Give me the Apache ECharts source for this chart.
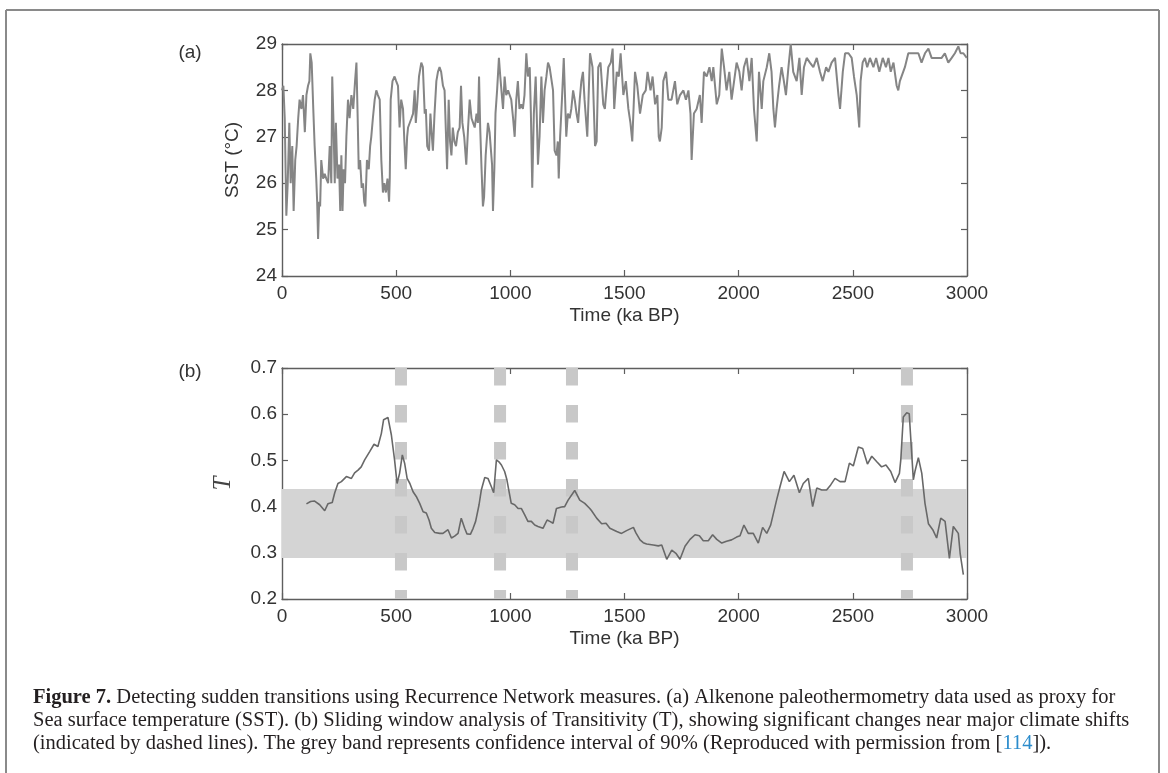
<!DOCTYPE html>
<html>
<head>
<meta charset="utf-8">
<script src="https://cdn.jsdelivr.net/npm/echarts@6.0.0/dist/echarts.min.js"></script>
<style>
  html, body { margin: 0; padding: 0; background: #fff; }
  #fig { width: 1168px; height: 773px; }
</style>
</head>
<body>
<div id="fig"></div>
<script>
// ---- data ----
var timeTicks = [0, 500, 1000, 1500, 2000, 2500, 3000];
var sstTicks = [24, 25, 26, 27, 28, 29];
var transTicks = [0.2, 0.3, 0.4, 0.5, 0.6, 0.7];

// (a) SST record, ka BP / degC
var sstTime = [0, 6, 12, 19, 25, 32, 38, 45, 51, 58, 64, 71, 77, 85, 92, 100, 107, 114, 120, 124,
  130, 137, 143, 150, 154, 158, 163, 167, 172, 180, 187, 194, 202, 209, 216, 220, 225, 231, 236, 243,
  250, 255, 260, 265, 270, 276, 282, 289, 296, 304, 312, 320, 326, 331, 336, 342, 349, 355, 360, 365,
  372, 380, 386, 391, 398, 406, 413, 420, 428, 435, 442, 448, 455, 462, 469, 472, 476, 484, 493, 500,
  508, 515, 522, 530, 536, 542, 548, 552, 560, 567, 574, 581, 586, 592, 600, 610, 617, 625, 630, 636,
  644, 650, 655, 661, 668, 676, 683, 690, 697, 705, 712, 720, 723, 730, 736, 742, 748, 755, 762, 770,
  778, 784, 790, 798, 807, 815, 822, 830, 837, 844, 852, 858, 863, 868, 874, 880, 885, 892, 902, 909,
  916, 920, 924, 930, 935, 942, 950, 956, 961, 968, 975, 982, 990, 997, 1004, 1012, 1019, 1026, 1033, 1040,
  1048, 1055, 1062, 1070, 1077, 1085, 1090, 1096, 1103, 1111, 1116, 1121, 1128, 1136, 1143, 1150, 1158, 1165, 1172, 1180,
  1187, 1194, 1202, 1208, 1212, 1218, 1226, 1234, 1240, 1245, 1252, 1260, 1267, 1275, 1282, 1290, 1297, 1304, 1311, 1318,
  1325, 1337, 1349, 1360, 1371, 1378, 1385, 1395, 1407, 1414, 1429, 1440, 1448, 1455, 1466, 1475, 1483, 1495, 1506, 1517,
  1526, 1534, 1546, 1556, 1568, 1580, 1593, 1601, 1614, 1623, 1634, 1644, 1650, 1655, 1663, 1670, 1682, 1692, 1706, 1721,
  1731, 1743, 1758, 1769, 1780, 1789, 1794, 1804, 1816, 1830, 1838, 1848, 1860, 1872, 1882, 1889, 1904, 1915, 1926, 1936,
  1947, 1959, 1969, 1980, 1991, 2003, 2013, 2023, 2035, 2047, 2057, 2067, 2079, 2089, 2101, 2108, 2123, 2134, 2144, 2152,
  2159, 2166, 2177, 2188, 2198, 2207, 2218, 2228, 2239, 2254, 2266, 2276, 2286, 2298, 2312, 2327, 2342, 2356, 2368, 2383,
  2393, 2407, 2422, 2437, 2444, 2456, 2466, 2481, 2495, 2505, 2517, 2528, 2534, 2543, 2553, 2563, 2575, 2590, 2602, 2616,
  2631, 2645, 2656, 2666, 2678, 2692, 2699, 2706, 2714, 2728, 2743, 2758, 2772, 2787, 2801, 2816, 2831, 2845, 2860, 2874,
  2889, 2903, 2918, 2933, 2947, 2962, 2972, 2984, 2999];
var sstValue = [28.0, 28.1, 27.4, 25.3, 26.0, 27.3, 26.0, 26.8, 25.4, 26.5, 26.8, 27.4, 27.8, 27.6, 27.9, 27.1, 27.9, 28.1, 28.2, 28.8,
  28.6, 27.6, 26.8, 26.1, 25.6, 24.8, 25.6, 25.5, 26.5, 26.1, 26.2, 26.1, 26.0, 26.8, 26.0, 28.3, 27.4, 26.0, 27.3, 26.1,
  26.4, 25.4, 26.6, 25.4, 26.3, 26.0, 27.0, 27.8, 27.4, 27.9, 27.6, 28.2, 28.6, 27.5, 26.3, 26.5, 25.9, 26.0, 25.6, 25.5,
  26.5, 26.3, 26.8, 27.0, 27.4, 27.8, 28.0, 27.9, 27.8, 26.5, 25.8, 26.0, 25.8, 26.1, 25.6, 26.1, 27.8, 28.2, 28.3, 28.2,
  28.1, 27.2, 27.8, 27.6, 26.9, 26.3, 27.0, 27.2, 27.2, 27.4, 27.5, 28.0, 27.3, 27.7, 28.3, 28.6, 28.5, 27.5, 27.6, 26.8,
  26.7, 27.5, 27.1, 26.7, 27.5, 28.2, 28.4, 28.5, 28.4, 28.1, 28.0, 28.0, 26.3, 27.8, 26.9, 26.6, 27.2, 26.9, 26.8, 27.1,
  27.2, 28.1, 27.3, 27.0, 26.4, 27.2, 27.8, 27.4, 27.3, 27.2, 27.5, 27.3, 28.3, 27.2, 26.3, 25.5, 25.7, 26.6, 27.3, 27.1,
  27.1, 26.4, 25.4, 26.3, 27.5, 28.0, 28.7, 28.3, 28.0, 27.6, 28.3, 27.9, 28.0, 27.9, 27.8, 27.4, 27.0, 27.8, 28.2, 27.6,
  27.7, 27.6, 27.9, 28.8, 28.3, 28.5, 27.5, 25.9, 27.5, 28.3, 27.4, 26.4, 27.0, 28.3, 27.3, 28.0, 28.3, 28.6, 28.5, 28.5,
  28.0, 26.7, 26.6, 26.9, 26.1, 27.0, 27.8, 28.7, 27.8, 27.0, 27.5, 27.4, 27.6, 28.0, 27.8, 27.5, 27.3, 27.8, 28.2, 28.4,
  27.8, 27.0, 28.8, 28.5, 26.8, 26.9, 28.5, 28.6, 27.7, 27.6, 28.5, 28.6, 28.9, 27.6, 28.4, 28.3, 28.8, 27.9, 28.2, 27.6,
  27.3, 26.9, 28.4, 28.1, 27.5, 27.9, 28.0, 28.4, 28.0, 28.3, 27.7, 27.9, 27.0, 26.9, 27.2, 28.2, 28.4, 27.8, 27.8, 28.2,
  27.7, 27.9, 28.0, 27.8, 28.0, 27.5, 26.5, 27.5, 27.6, 27.9, 27.3, 28.4, 28.3, 28.5, 28.2, 28.5, 27.7, 27.9, 28.9, 28.5,
  28.0, 28.4, 27.8, 28.2, 28.6, 28.4, 28.0, 28.5, 28.7, 28.2, 28.7, 27.6, 26.9, 28.4, 27.6, 28.2, 28.5, 28.8, 28.4, 27.6,
  27.2, 27.6, 28.1, 28.5, 28.2, 27.9, 28.5, 29.0, 28.4, 28.2, 28.7, 27.9, 28.5, 28.7, 28.6, 28.5, 28.7, 28.4, 28.2, 28.5,
  28.4, 28.6, 28.7, 27.9, 27.6, 28.4, 28.8, 28.8, 28.7, 28.3, 27.9, 27.2, 28.2, 28.6, 28.7, 28.5, 28.7, 28.5, 28.7, 28.4,
  28.7, 28.5, 28.7, 28.4, 28.6, 28.1, 28.0, 28.2, 28.2, 28.5, 28.8, 28.8, 28.8, 28.8, 28.6, 28.8, 28.9, 28.7, 28.7, 28.7,
  28.7, 28.8, 28.6, 28.7, 28.8, 28.95, 28.8, 28.8, 28.7];

// (b) sliding-window transitivity
var transTime = [107, 125, 143, 165, 187, 201, 220, 231, 245, 260, 282, 304, 318, 333, 347, 362, 384, 403, 420, 435,
  445, 464, 479, 493, 504, 515, 527, 537, 548, 560, 574, 588, 603, 618, 632, 644, 654, 669, 691, 705,
  727, 742, 756, 771, 785, 800, 810, 825, 837, 848, 863, 873, 888, 902, 917, 927, 939, 950, 961, 975,
  985, 993, 1004, 1019, 1034, 1048, 1063, 1077, 1092, 1107, 1121, 1143, 1161, 1173, 1187, 1202, 1224, 1238, 1253, 1282,
  1304, 1326, 1348, 1356, 1378, 1400, 1419, 1436, 1466, 1487, 1509, 1539, 1550, 1568, 1582, 1597, 1626, 1648, 1663, 1685,
  1707, 1725, 1743, 1765, 1787, 1809, 1828, 1845, 1867, 1886, 1904, 1926, 1947, 1969, 1991, 2006, 2023, 2042, 2064, 2086,
  2105, 2123, 2140, 2166, 2181, 2199, 2222, 2242, 2266, 2283, 2305, 2324, 2342, 2364, 2385, 2403, 2422, 2444, 2466, 2485,
  2502, 2524, 2543, 2564, 2583, 2605, 2626, 2645, 2666, 2685, 2704, 2710, 2721, 2736, 2747, 2755, 2765, 2772, 2787, 2802,
  2816, 2831, 2850, 2867, 2885, 2904, 2923, 2940, 2962, 2970, 2984];
var transValue = [0.406, 0.411, 0.412, 0.404, 0.391, 0.406, 0.409, 0.430, 0.450, 0.454, 0.465, 0.461, 0.473, 0.479, 0.486, 0.501, 0.519, 0.535, 0.530, 0.558,
  0.588, 0.593, 0.555, 0.501, 0.450, 0.472, 0.512, 0.494, 0.461, 0.450, 0.432, 0.422, 0.407, 0.389, 0.386, 0.371, 0.353, 0.344, 0.342, 0.342,
  0.350, 0.332, 0.336, 0.342, 0.375, 0.353, 0.341, 0.340, 0.353, 0.368, 0.404, 0.436, 0.463, 0.461, 0.443, 0.430, 0.501, 0.497, 0.490, 0.476,
  0.458, 0.436, 0.407, 0.404, 0.396, 0.396, 0.382, 0.368, 0.368, 0.360, 0.357, 0.353, 0.371, 0.368, 0.364, 0.396, 0.399, 0.400, 0.414, 0.435,
  0.414, 0.407, 0.396, 0.391, 0.375, 0.363, 0.364, 0.353, 0.346, 0.342, 0.348, 0.355, 0.343, 0.328, 0.322, 0.319, 0.317, 0.315, 0.317, 0.286,
  0.306, 0.299, 0.286, 0.314, 0.329, 0.339, 0.337, 0.326, 0.326, 0.339, 0.329, 0.321, 0.325, 0.328, 0.334, 0.337, 0.360, 0.342, 0.342, 0.321,
  0.355, 0.342, 0.360, 0.414, 0.443, 0.476, 0.454, 0.468, 0.430, 0.450, 0.461, 0.400, 0.440, 0.436, 0.436, 0.447, 0.461, 0.454, 0.454, 0.494,
  0.488, 0.529, 0.526, 0.492, 0.509, 0.497, 0.486, 0.490, 0.476, 0.452, 0.472, 0.501, 0.594, 0.603, 0.601, 0.537, 0.458, 0.476, 0.506, 0.472,
  0.407, 0.363, 0.350, 0.332, 0.375, 0.368, 0.288, 0.357, 0.342, 0.299, 0.253];

// major climate shifts (dashed lines) and 90% confidence band
var shiftTimes = [521, 955, 1270, 2737];
var bandLow = 0.289;
var bandHigh = 0.438;

// ---- chart ----
var sansFont = '"Liberation Sans", Arial, Helvetica, sans-serif';
var serifFont = '"Liberation Serif", "Times New Roman", serif';
var axisColor = '#5e5e5e';
var labelColor = '#333';
var captionSize = 20.5;

function zip(xs, ys) {
  return xs.map(function (x, i) { return [x, ys[i]]; });
}

function boxAxis(extra) {
  var base = {
    type: 'value',
    axisLine: { show: true, onZero: false, lineStyle: { color: axisColor, width: 1.4 } },
    axisTick: { show: true, inside: true, length: 6, lineStyle: { color: axisColor, width: 1.2 } },
    axisLabel: { show: false },
    splitLine: { show: false }
  };
  return Object.assign(base, extra);
}

var tickLabel = { show: true, color: labelColor, fontSize: 19, fontFamily: sansFont };
var plainNum = function (v) { return String(v); };

var myChart = echarts.init(document.getElementById('fig'), null, { renderer: 'canvas' });

var series = [
  {
    name: 'SST',
    type: 'line',
    xAxisIndex: 0,
    yAxisIndex: 0,
    data: zip(sstTime, sstValue),
    showSymbol: false,
    silent: true,
    lineStyle: { color: '#858585', width: 2 },
    z: 3
  },
  {
    name: 'band',
    type: 'line',
    xAxisIndex: 2,
    yAxisIndex: 2,
    data: [],
    silent: true,
    z: 1,
    markArea: {
      silent: true,
      itemStyle: { color: '#d4d4d4' },
      data: [[{ yAxis: bandLow }, { yAxis: bandHigh }]]
    }
  }
];

shiftTimes.forEach(function (t) {
  series.push({
    type: 'line',
    xAxisIndex: 2,
    yAxisIndex: 2,
    data: [[t, transTicks[transTicks.length - 1]], [t, transTicks[0]]],
    showSymbol: false,
    silent: true,
    z: 2,
    lineStyle: { color: '#c8c8c8', width: 12, type: [17.5, 19.5], cap: 'butt' }
  });
});

series.push({
  name: 'Transitivity',
  type: 'line',
  xAxisIndex: 2,
  yAxisIndex: 2,
  data: zip(transTime, transValue),
  showSymbol: false,
  silent: true,
  lineStyle: { color: '#686868', width: 1.6 },
  z: 4
});

var option = {
  backgroundColor: '#ffffff',
  animation: false,
  grid: [
    { left: 282, right: 201, top: 44, height: 232 },
    { left: 282, right: 201, top: 368, height: 231 }
  ],
  xAxis: [
    boxAxis({
      gridIndex: 0, position: 'bottom',
      min: timeTicks[0], max: timeTicks[timeTicks.length - 1], interval: 500,
      axisLabel: Object.assign({ margin: 8, formatter: plainNum }, tickLabel),
      name: 'Time (ka BP)', nameLocation: 'middle', nameGap: 30,
      nameTextStyle: { color: labelColor, fontSize: 19, fontFamily: sansFont }
    }),
    boxAxis({
      gridIndex: 0, position: 'top',
      min: timeTicks[0], max: timeTicks[timeTicks.length - 1], interval: 500
    }),
    boxAxis({
      gridIndex: 1, position: 'bottom',
      min: timeTicks[0], max: timeTicks[timeTicks.length - 1], interval: 500,
      axisLabel: Object.assign({ margin: 8, formatter: plainNum }, tickLabel),
      name: 'Time (ka BP)', nameLocation: 'middle', nameGap: 30,
      nameTextStyle: { color: labelColor, fontSize: 19, fontFamily: sansFont }
    }),
    boxAxis({
      gridIndex: 1, position: 'top',
      min: timeTicks[0], max: timeTicks[timeTicks.length - 1], interval: 500
    })
  ],
  yAxis: [
    boxAxis({
      gridIndex: 0, position: 'left',
      min: sstTicks[0], max: sstTicks[sstTicks.length - 1], interval: 1,
      axisLabel: Object.assign({ margin: 5, formatter: plainNum }, tickLabel),
      name: 'SST (°C)', nameLocation: 'middle', nameGap: 40,
      nameTextStyle: { color: labelColor, fontSize: 19, fontFamily: sansFont }
    }),
    boxAxis({
      gridIndex: 0, position: 'right',
      min: sstTicks[0], max: sstTicks[sstTicks.length - 1], interval: 1
    }),
    boxAxis({
      gridIndex: 1, position: 'left',
      min: transTicks[0], max: transTicks[transTicks.length - 1], interval: 0.1,
      axisLabel: Object.assign({
        margin: 5,
        formatter: function (v) { return v.toFixed(1); }
      }, tickLabel),
      name: 'T', nameLocation: 'middle', nameGap: 46,
      nameTextStyle: { color: '#444', fontSize: 25, fontFamily: serifFont, fontStyle: 'italic' }
    }),
    boxAxis({
      gridIndex: 1, position: 'right',
      min: transTicks[0], max: transTicks[transTicks.length - 1], interval: 0.1
    })
  ],
  graphic: [
    // figure frame
    { type: 'line', silent: true, shape: { x1: 6, y1: 10, x2: 1159, y2: 10 }, style: { stroke: '#8a8a8a', lineWidth: 2 } },
    { type: 'line', silent: true, shape: { x1: 6, y1: 10, x2: 6, y2: 773 }, style: { stroke: '#8a8a8a', lineWidth: 2 } },
    { type: 'line', silent: true, shape: { x1: 1159, y1: 10, x2: 1159, y2: 773 }, style: { stroke: '#8a8a8a', lineWidth: 2 } },
    // panel tags
    { type: 'text', x: 190, y: 53, style: { text: '(a)', fill: labelColor, font: '19px ' + sansFont, align: 'center', verticalAlign: 'middle' } },
    { type: 'text', x: 190, y: 372, style: { text: '(b)', fill: labelColor, font: '19px ' + sansFont, align: 'center', verticalAlign: 'middle' } },
    // caption
    {
      type: 'text', x: 33, y: 698,
      style: {
        text: '{b|Figure 7.} Detecting sudden transitions using Recurrence Network measures. (a) Alkenone paleothermometry data used as proxy for',
        fill: '#231f20', font: captionSize + 'px ' + serifFont, verticalAlign: 'middle',
        rich: { b: { fontWeight: 'bold', fontSize: captionSize, fontFamily: serifFont, fill: '#231f20' } }
      }
    },
    {
      type: 'text', x: 33, y: 721,
      style: {
        text: 'Sea surface temperature (SST). (b) Sliding window analysis of Transitivity (T), showing significant changes near major climate shifts',
        fill: '#231f20', font: captionSize + 'px ' + serifFont, verticalAlign: 'middle'
      }
    },
    {
      type: 'text', x: 33, y: 744,
      style: {
        text: '(indicated by dashed lines). The grey band represents confidence interval of 90% (Reproduced with permission from [{l|114}]).',
        fill: '#231f20', font: captionSize + 'px ' + serifFont, verticalAlign: 'middle',
        rich: { l: { fill: '#2b8ccc', fontSize: captionSize, fontFamily: serifFont } }
      }
    }
  ],
  series: series
};

option && myChart.setOption(option);
</script>
</body>
</html>
